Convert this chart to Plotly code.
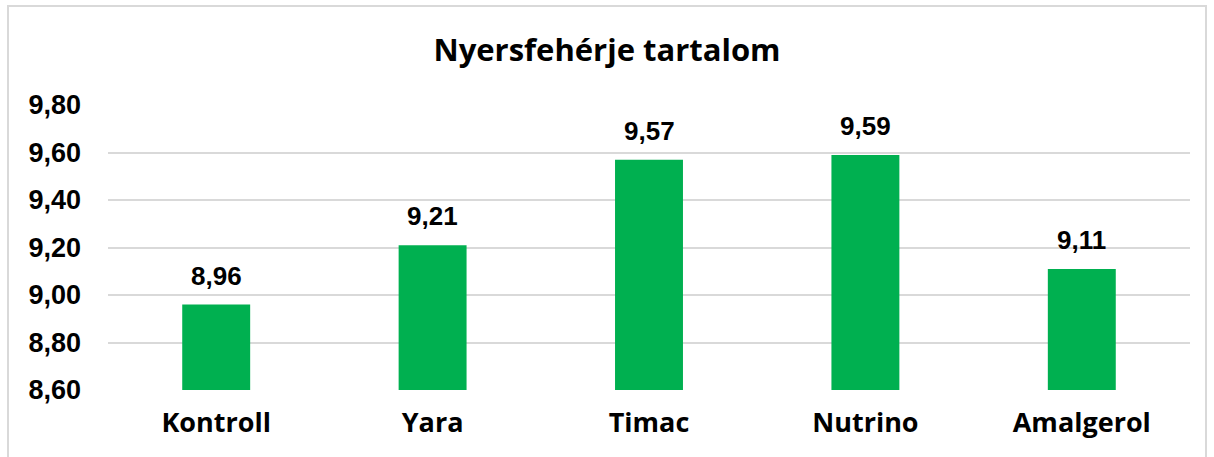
import plotly.graph_objects as go

# adatok
kezelesek = ["Kontroll", "Yara", "Timac", "Nutrino", "Amalgerol"]
nyersfeherje = [8.96, 9.21, 9.57, 9.59, 9.11]
y_ticks = [8.6, 8.8, 9.0, 9.2, 9.4, 9.6, 9.8]

W, H = 1214, 457
ML, MR, MT, MB = 108, 24, 105, 67
pw, ph = W - ML - MR, H - MT - MB

fig = go.Figure()

fig.add_trace(go.Bar(
    x=kezelesek,
    y=nyersfeherje,
    marker=dict(color="#00B050", line=dict(width=0)),
    cliponaxis=False,
    hoverinfo="x+y",
))

# ertekcimkek
for k, v in zip(kezelesek, nyersfeherje):
    fig.add_annotation(
        x=k, y=v, text="<b>" + f"{v:.2f}".replace(".", ",") + "</b>",
        showarrow=False, yanchor="bottom", yshift=12,
        font=dict(family="Liberation Sans, Arial", size=26, color="#000000"),
    )

# kulso keret
fig.add_shape(
    type="rect", xref="paper", yref="paper",
    x0=(8 - ML) / pw, x1=(W - 8 - ML) / pw,
    y0=(MB - H - 5) / ph, y1=(H - 6 - MB) / ph,
    line=dict(color="#D9D9D9", width=2),
    fillcolor="rgba(0,0,0,0)",
    layer="below",
)

fig.update_layout(
    width=W,
    height=H,
    margin=dict(l=ML, r=MR, t=MT, b=MB),
    separators=",.",
    paper_bgcolor="white",
    plot_bgcolor="white",
    showlegend=False,
    bargap=0.686,
    title=dict(
        text="<b>Nyersfehérje tartalom</b>",
        x=0.5, xanchor="center",
        y=1 - 50 / H, yanchor="middle",
        font=dict(family="Open Sans", size=31, color="#000000"),
    ),
    xaxis=dict(
        showgrid=False,
        showline=False,
        ticks="",
        tickfont=dict(family="Open Sans", size=27, color="#000000", weight="bold"),
        ticklabelstandoff=14,
    ),
    yaxis=dict(
        range=[8.6, 9.8],
        tickvals=y_ticks,
        tickformat=".2f",
        showgrid=True,
        gridcolor="#D9D9D9",
        gridwidth=1.5,
        zeroline=False,
        showline=False,
        ticks="",
        tickfont=dict(family="Liberation Sans, Arial", size=27, color="#000000", weight="bold"),
        ticklabelstandoff=26,
    ),
)

fig.write_html("out.html", config={"displayModeBar": False},
               post_script="document.body.style.margin='0';")
